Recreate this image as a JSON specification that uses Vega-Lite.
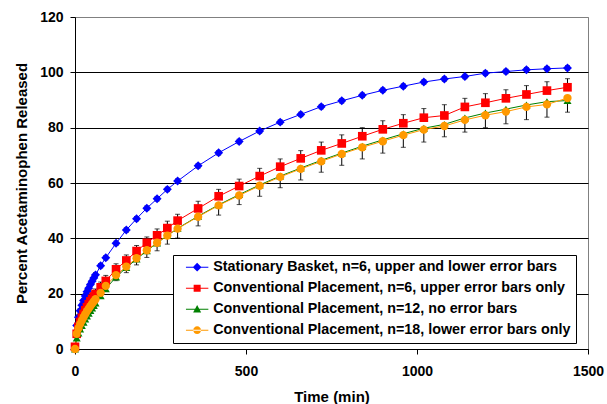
{
  "$schema": "https://vega.github.io/schema/vega-lite/v6.json",
  "width": 513,
  "height": 332,
  "autosize": {"type": "none"},
  "padding": {"left": 75, "top": 17, "right": 19, "bottom": 55},
  "config": {
    "font": "Liberation Sans",
    "view": {"stroke": "#808080", "strokeWidth": 1},
    "axis": {"labelFontWeight": "bold", "titleFontWeight": "bold", "labelColor": "black", "titleColor": "black", "domainColor": "black", "tickColor": "black", "labelFontSize": 14, "titleFontSize": 15},
    "legend": {"orient": "none", "legendX": 98, "legendY": 238, "labelFontSize": 14.3, "labelFontWeight": "bold", "labelColor": "black", "labelLimit": 500, "strokeColor": "black", "fillColor": "white", "padding": 5, "rowPadding": 6, "symbolSize": 49, "symbolOffset": 12, "labelOffset": 9}
  },
  "data": {"values": [
    {"s":"Stationary Basket, n=6, upper and lower error bars","t":5,"v":8.5,"lo":7.7,"hi":9.3},
    {"s":"Stationary Basket, n=6, upper and lower error bars","t":10,"v":11.5,"lo":10.7,"hi":12.3},
    {"s":"Stationary Basket, n=6, upper and lower error bars","t":15,"v":13.8,"lo":13.0,"hi":14.6},
    {"s":"Stationary Basket, n=6, upper and lower error bars","t":20,"v":15.8,"lo":15.0,"hi":16.6},
    {"s":"Stationary Basket, n=6, upper and lower error bars","t":25,"v":17.5,"lo":16.7,"hi":18.3},
    {"s":"Stationary Basket, n=6, upper and lower error bars","t":30,"v":19.2,"lo":18.4,"hi":20.0},
    {"s":"Stationary Basket, n=6, upper and lower error bars","t":35,"v":20.7,"lo":19.9,"hi":21.5},
    {"s":"Stationary Basket, n=6, upper and lower error bars","t":40,"v":22.0,"lo":21.2,"hi":22.8},
    {"s":"Stationary Basket, n=6, upper and lower error bars","t":45,"v":23.3,"lo":22.5,"hi":24.1},
    {"s":"Stationary Basket, n=6, upper and lower error bars","t":50,"v":24.5,"lo":23.7,"hi":25.3},
    {"s":"Stationary Basket, n=6, upper and lower error bars","t":55,"v":25.7,"lo":24.9,"hi":26.5},
    {"s":"Stationary Basket, n=6, upper and lower error bars","t":60,"v":26.8,"lo":26.0,"hi":27.6},
    {"s":"Stationary Basket, n=6, upper and lower error bars","t":75,"v":30.1,"lo":29.3,"hi":30.9},
    {"s":"Stationary Basket, n=6, upper and lower error bars","t":90,"v":33.0,"lo":32.2,"hi":33.8},
    {"s":"Stationary Basket, n=6, upper and lower error bars","t":120,"v":38.2,"lo":37.4,"hi":39.0},
    {"s":"Stationary Basket, n=6, upper and lower error bars","t":150,"v":43.0,"lo":42.2,"hi":43.8},
    {"s":"Stationary Basket, n=6, upper and lower error bars","t":180,"v":47.1,"lo":46.3,"hi":47.9},
    {"s":"Stationary Basket, n=6, upper and lower error bars","t":210,"v":50.9,"lo":50.1,"hi":51.7},
    {"s":"Stationary Basket, n=6, upper and lower error bars","t":240,"v":54.3,"lo":53.5,"hi":55.1},
    {"s":"Stationary Basket, n=6, upper and lower error bars","t":270,"v":57.7,"lo":56.9,"hi":58.5},
    {"s":"Stationary Basket, n=6, upper and lower error bars","t":300,"v":60.7,"lo":59.9,"hi":61.5},
    {"s":"Stationary Basket, n=6, upper and lower error bars","t":360,"v":66.2,"lo":65.4,"hi":67.0},
    {"s":"Stationary Basket, n=6, upper and lower error bars","t":420,"v":70.9,"lo":70.1,"hi":71.7},
    {"s":"Stationary Basket, n=6, upper and lower error bars","t":480,"v":75.0,"lo":74.2,"hi":75.8},
    {"s":"Stationary Basket, n=6, upper and lower error bars","t":540,"v":78.8,"lo":78.0,"hi":79.6},
    {"s":"Stationary Basket, n=6, upper and lower error bars","t":600,"v":82.0,"lo":81.2,"hi":82.8},
    {"s":"Stationary Basket, n=6, upper and lower error bars","t":660,"v":84.8,"lo":84.0,"hi":85.6},
    {"s":"Stationary Basket, n=6, upper and lower error bars","t":720,"v":87.6,"lo":86.8,"hi":88.4},
    {"s":"Stationary Basket, n=6, upper and lower error bars","t":780,"v":89.7,"lo":88.9,"hi":90.5},
    {"s":"Stationary Basket, n=6, upper and lower error bars","t":840,"v":91.7,"lo":90.9,"hi":92.5},
    {"s":"Stationary Basket, n=6, upper and lower error bars","t":900,"v":93.5,"lo":92.7,"hi":94.3},
    {"s":"Stationary Basket, n=6, upper and lower error bars","t":960,"v":95.0,"lo":94.2,"hi":95.8},
    {"s":"Stationary Basket, n=6, upper and lower error bars","t":1020,"v":96.5,"lo":95.7,"hi":97.3},
    {"s":"Stationary Basket, n=6, upper and lower error bars","t":1080,"v":97.6,"lo":96.8,"hi":98.4},
    {"s":"Stationary Basket, n=6, upper and lower error bars","t":1140,"v":98.5,"lo":97.7,"hi":99.3},
    {"s":"Stationary Basket, n=6, upper and lower error bars","t":1200,"v":99.7,"lo":98.9,"hi":100.5},
    {"s":"Stationary Basket, n=6, upper and lower error bars","t":1260,"v":100.3,"lo":99.5,"hi":101.1},
    {"s":"Stationary Basket, n=6, upper and lower error bars","t":1320,"v":100.9,"lo":100.1,"hi":101.7},
    {"s":"Stationary Basket, n=6, upper and lower error bars","t":1380,"v":101.3,"lo":100.5,"hi":102.1},
    {"s":"Stationary Basket, n=6, upper and lower error bars","t":1440,"v":101.6,"lo":100.8,"hi":102.4},

    {"s":"Conventional Placement, n=6, upper error bars only","t":0,"v":0.8,"lo":0.8,"hi":1.3},
    {"s":"Conventional Placement, n=6, upper error bars only","t":5,"v":5.5,"lo":5.5,"hi":6.5},
    {"s":"Conventional Placement, n=6, upper error bars only","t":10,"v":8.0,"lo":8.0,"hi":9.2},
    {"s":"Conventional Placement, n=6, upper error bars only","t":15,"v":9.8,"lo":9.8,"hi":11.1},
    {"s":"Conventional Placement, n=6, upper error bars only","t":20,"v":11.3,"lo":11.3,"hi":12.7},
    {"s":"Conventional Placement, n=6, upper error bars only","t":25,"v":12.7,"lo":12.7,"hi":14.2},
    {"s":"Conventional Placement, n=6, upper error bars only","t":30,"v":14.0,"lo":14.0,"hi":15.5},
    {"s":"Conventional Placement, n=6, upper error bars only","t":35,"v":15.1,"lo":15.1,"hi":16.7},
    {"s":"Conventional Placement, n=6, upper error bars only","t":40,"v":16.2,"lo":16.2,"hi":17.8},
    {"s":"Conventional Placement, n=6, upper error bars only","t":45,"v":17.2,"lo":17.2,"hi":18.9},
    {"s":"Conventional Placement, n=6, upper error bars only","t":50,"v":18.1,"lo":18.1,"hi":19.8},
    {"s":"Conventional Placement, n=6, upper error bars only","t":55,"v":19.0,"lo":19.0,"hi":20.8},
    {"s":"Conventional Placement, n=6, upper error bars only","t":60,"v":19.9,"lo":19.9,"hi":21.7},
    {"s":"Conventional Placement, n=6, upper error bars only","t":75,"v":22.3,"lo":22.3,"hi":24.2},
    {"s":"Conventional Placement, n=6, upper error bars only","t":90,"v":24.6,"lo":24.6,"hi":26.6},
    {"s":"Conventional Placement, n=6, upper error bars only","t":120,"v":28.8,"lo":28.8,"hi":30.8},
    {"s":"Conventional Placement, n=6, upper error bars only","t":150,"v":32.0,"lo":32.0,"hi":34.0},
    {"s":"Conventional Placement, n=6, upper error bars only","t":180,"v":35.4,"lo":35.4,"hi":37.4},
    {"s":"Conventional Placement, n=6, upper error bars only","t":210,"v":38.4,"lo":38.4,"hi":40.5},
    {"s":"Conventional Placement, n=6, upper error bars only","t":240,"v":41.1,"lo":41.1,"hi":43.4},
    {"s":"Conventional Placement, n=6, upper error bars only","t":270,"v":43.7,"lo":43.7,"hi":46.2},
    {"s":"Conventional Placement, n=6, upper error bars only","t":300,"v":46.4,"lo":46.4,"hi":48.7},
    {"s":"Conventional Placement, n=6, upper error bars only","t":360,"v":50.8,"lo":50.8,"hi":53.4},
    {"s":"Conventional Placement, n=6, upper error bars only","t":420,"v":55.2,"lo":55.2,"hi":57.7},
    {"s":"Conventional Placement, n=6, upper error bars only","t":480,"v":58.9,"lo":58.9,"hi":61.4},
    {"s":"Conventional Placement, n=6, upper error bars only","t":540,"v":62.5,"lo":62.5,"hi":65.3},
    {"s":"Conventional Placement, n=6, upper error bars only","t":600,"v":65.9,"lo":65.9,"hi":68.7},
    {"s":"Conventional Placement, n=6, upper error bars only","t":660,"v":68.9,"lo":68.9,"hi":71.7},
    {"s":"Conventional Placement, n=6, upper error bars only","t":720,"v":71.8,"lo":71.8,"hi":74.8},
    {"s":"Conventional Placement, n=6, upper error bars only","t":780,"v":74.3,"lo":74.3,"hi":77.4},
    {"s":"Conventional Placement, n=6, upper error bars only","t":840,"v":76.9,"lo":76.9,"hi":80.0},
    {"s":"Conventional Placement, n=6, upper error bars only","t":900,"v":79.4,"lo":79.4,"hi":82.5},
    {"s":"Conventional Placement, n=6, upper error bars only","t":960,"v":81.6,"lo":81.6,"hi":84.7},
    {"s":"Conventional Placement, n=6, upper error bars only","t":1020,"v":83.6,"lo":83.6,"hi":86.9},
    {"s":"Conventional Placement, n=6, upper error bars only","t":1080,"v":84.4,"lo":84.4,"hi":88.3},
    {"s":"Conventional Placement, n=6, upper error bars only","t":1140,"v":87.5,"lo":87.5,"hi":90.6},
    {"s":"Conventional Placement, n=6, upper error bars only","t":1200,"v":89.0,"lo":89.0,"hi":92.3},
    {"s":"Conventional Placement, n=6, upper error bars only","t":1260,"v":90.6,"lo":90.6,"hi":93.7},
    {"s":"Conventional Placement, n=6, upper error bars only","t":1320,"v":92.0,"lo":92.0,"hi":95.2},
    {"s":"Conventional Placement, n=6, upper error bars only","t":1380,"v":93.4,"lo":93.4,"hi":96.6},
    {"s":"Conventional Placement, n=6, upper error bars only","t":1440,"v":94.6,"lo":94.6,"hi":97.7},

    {"s":"Conventional Placement, n=12, no error bars","t":0,"v":0.0},
    {"s":"Conventional Placement, n=12, no error bars","t":5,"v":4.0},
    {"s":"Conventional Placement, n=12, no error bars","t":10,"v":5.8},
    {"s":"Conventional Placement, n=12, no error bars","t":15,"v":7.2},
    {"s":"Conventional Placement, n=12, no error bars","t":20,"v":8.5},
    {"s":"Conventional Placement, n=12, no error bars","t":25,"v":9.7},
    {"s":"Conventional Placement, n=12, no error bars","t":30,"v":10.8},
    {"s":"Conventional Placement, n=12, no error bars","t":35,"v":11.9},
    {"s":"Conventional Placement, n=12, no error bars","t":40,"v":12.9},
    {"s":"Conventional Placement, n=12, no error bars","t":45,"v":13.9},
    {"s":"Conventional Placement, n=12, no error bars","t":50,"v":14.8},
    {"s":"Conventional Placement, n=12, no error bars","t":55,"v":15.7},
    {"s":"Conventional Placement, n=12, no error bars","t":60,"v":16.6},
    {"s":"Conventional Placement, n=12, no error bars","t":75,"v":19.2},
    {"s":"Conventional Placement, n=12, no error bars","t":90,"v":21.8},
    {"s":"Conventional Placement, n=12, no error bars","t":120,"v":26.0},
    {"s":"Conventional Placement, n=12, no error bars","t":150,"v":29.4},
    {"s":"Conventional Placement, n=12, no error bars","t":180,"v":32.5},
    {"s":"Conventional Placement, n=12, no error bars","t":210,"v":35.5},
    {"s":"Conventional Placement, n=12, no error bars","t":240,"v":38.3},
    {"s":"Conventional Placement, n=12, no error bars","t":270,"v":41.0},
    {"s":"Conventional Placement, n=12, no error bars","t":300,"v":43.6},
    {"s":"Conventional Placement, n=12, no error bars","t":360,"v":48.0},
    {"s":"Conventional Placement, n=12, no error bars","t":420,"v":52.1},
    {"s":"Conventional Placement, n=12, no error bars","t":480,"v":55.8},
    {"s":"Conventional Placement, n=12, no error bars","t":540,"v":59.3},
    {"s":"Conventional Placement, n=12, no error bars","t":600,"v":62.5},
    {"s":"Conventional Placement, n=12, no error bars","t":660,"v":65.4},
    {"s":"Conventional Placement, n=12, no error bars","t":720,"v":68.2},
    {"s":"Conventional Placement, n=12, no error bars","t":780,"v":70.8},
    {"s":"Conventional Placement, n=12, no error bars","t":840,"v":73.3},
    {"s":"Conventional Placement, n=12, no error bars","t":900,"v":75.6},
    {"s":"Conventional Placement, n=12, no error bars","t":960,"v":77.8},
    {"s":"Conventional Placement, n=12, no error bars","t":1020,"v":79.8},
    {"s":"Conventional Placement, n=12, no error bars","t":1080,"v":81.2},
    {"s":"Conventional Placement, n=12, no error bars","t":1140,"v":83.5},
    {"s":"Conventional Placement, n=12, no error bars","t":1200,"v":85.3},
    {"s":"Conventional Placement, n=12, no error bars","t":1260,"v":86.7},
    {"s":"Conventional Placement, n=12, no error bars","t":1320,"v":88.2},
    {"s":"Conventional Placement, n=12, no error bars","t":1380,"v":89.4},
    {"s":"Conventional Placement, n=12, no error bars","t":1440,"v":89.8},

    {"s":"Conventional Placement, n=18, lower error bars only","t":0,"v":0.0,"lo":0.0,"hi":0.0},
    {"s":"Conventional Placement, n=18, lower error bars only","t":5,"v":5.5,"lo":4.7,"hi":5.5},
    {"s":"Conventional Placement, n=18, lower error bars only","t":10,"v":7.5,"lo":6.5,"hi":7.5},
    {"s":"Conventional Placement, n=18, lower error bars only","t":15,"v":9.0,"lo":7.9,"hi":9.0},
    {"s":"Conventional Placement, n=18, lower error bars only","t":20,"v":10.3,"lo":9.1,"hi":10.3},
    {"s":"Conventional Placement, n=18, lower error bars only","t":25,"v":11.5,"lo":10.2,"hi":11.5},
    {"s":"Conventional Placement, n=18, lower error bars only","t":30,"v":12.6,"lo":11.2,"hi":12.6},
    {"s":"Conventional Placement, n=18, lower error bars only","t":35,"v":13.7,"lo":12.2,"hi":13.7},
    {"s":"Conventional Placement, n=18, lower error bars only","t":40,"v":14.6,"lo":13.1,"hi":14.6},
    {"s":"Conventional Placement, n=18, lower error bars only","t":45,"v":15.5,"lo":13.9,"hi":15.5},
    {"s":"Conventional Placement, n=18, lower error bars only","t":50,"v":16.4,"lo":14.8,"hi":16.4},
    {"s":"Conventional Placement, n=18, lower error bars only","t":55,"v":17.2,"lo":15.5,"hi":17.2},
    {"s":"Conventional Placement, n=18, lower error bars only","t":60,"v":18.0,"lo":16.3,"hi":18.0},
    {"s":"Conventional Placement, n=18, lower error bars only","t":75,"v":20.3,"lo":18.5,"hi":20.3},
    {"s":"Conventional Placement, n=18, lower error bars only","t":90,"v":22.8,"lo":20.9,"hi":22.8},
    {"s":"Conventional Placement, n=18, lower error bars only","t":120,"v":26.7,"lo":24.7,"hi":26.7},
    {"s":"Conventional Placement, n=18, lower error bars only","t":150,"v":29.8,"lo":27.6,"hi":29.8},
    {"s":"Conventional Placement, n=18, lower error bars only","t":180,"v":32.8,"lo":30.4,"hi":32.8},
    {"s":"Conventional Placement, n=18, lower error bars only","t":210,"v":35.7,"lo":33.1,"hi":35.7},
    {"s":"Conventional Placement, n=18, lower error bars only","t":240,"v":38.4,"lo":35.5,"hi":38.4},
    {"s":"Conventional Placement, n=18, lower error bars only","t":270,"v":41.0,"lo":37.9,"hi":41.0},
    {"s":"Conventional Placement, n=18, lower error bars only","t":300,"v":43.5,"lo":40.1,"hi":43.5},
    {"s":"Conventional Placement, n=18, lower error bars only","t":360,"v":47.8,"lo":44.5,"hi":47.8},
    {"s":"Conventional Placement, n=18, lower error bars only","t":420,"v":51.9,"lo":48.4,"hi":51.9},
    {"s":"Conventional Placement, n=18, lower error bars only","t":480,"v":55.5,"lo":52.2,"hi":55.5},
    {"s":"Conventional Placement, n=18, lower error bars only","t":540,"v":59.0,"lo":55.2,"hi":59.0},
    {"s":"Conventional Placement, n=18, lower error bars only","t":600,"v":62.2,"lo":58.3,"hi":62.2},
    {"s":"Conventional Placement, n=18, lower error bars only","t":660,"v":65.1,"lo":61.1,"hi":65.1},
    {"s":"Conventional Placement, n=18, lower error bars only","t":720,"v":67.8,"lo":63.9,"hi":67.8},
    {"s":"Conventional Placement, n=18, lower error bars only","t":780,"v":70.5,"lo":66.4,"hi":70.5},
    {"s":"Conventional Placement, n=18, lower error bars only","t":840,"v":72.9,"lo":68.7,"hi":72.9},
    {"s":"Conventional Placement, n=18, lower error bars only","t":900,"v":75.1,"lo":70.8,"hi":75.1},
    {"s":"Conventional Placement, n=18, lower error bars only","t":960,"v":77.3,"lo":72.9,"hi":77.3},
    {"s":"Conventional Placement, n=18, lower error bars only","t":1020,"v":79.3,"lo":74.8,"hi":79.3},
    {"s":"Conventional Placement, n=18, lower error bars only","t":1080,"v":80.6,"lo":76.7,"hi":80.6},
    {"s":"Conventional Placement, n=18, lower error bars only","t":1140,"v":82.8,"lo":78.4,"hi":82.8},
    {"s":"Conventional Placement, n=18, lower error bars only","t":1200,"v":84.5,"lo":80.0,"hi":84.5},
    {"s":"Conventional Placement, n=18, lower error bars only","t":1260,"v":85.8,"lo":81.4,"hi":85.8},
    {"s":"Conventional Placement, n=18, lower error bars only","t":1320,"v":87.5,"lo":82.9,"hi":87.5},
    {"s":"Conventional Placement, n=18, lower error bars only","t":1380,"v":88.4,"lo":83.8,"hi":88.4},
    {"s":"Conventional Placement, n=18, lower error bars only","t":1440,"v":90.7,"lo":85.6,"hi":90.7}
  ]},
  "encoding": {
    "x": {"field": "t", "type": "quantitative", "scale": {"domain": [0, 1500], "nice": false},
      "axis": {"title": "Time (min)", "values": [0, 500, 1000, 1500], "format": "d", "grid": false, "tickSize": 5, "labelPadding": 10, "titlePadding": 11, "labelFlush": false}}
  },
  "layer": [
    {
      "transform": [{"filter": "isValid(datum.lo)"}],
      "mark": {"type": "errorbar", "ticks": {"size": 5, "color": "black", "thickness": 1}, "rule": {"color": "black", "strokeWidth": 1}, "color": "black"},
      "encoding": {
        "y": {"field": "lo", "type": "quantitative", "title": "Percent Acetaminophen Released", "scale": {"domain": [0, 120], "nice": false}},
        "y2": {"field": "hi"}
      }
    },
    {
      "mark": {"type": "line", "strokeWidth": 1},
      "encoding": {
        "y": {"field": "v", "type": "quantitative", "title": "Percent Acetaminophen Released", "scale": {"domain": [0, 120], "nice": false},
          "axis": {"values": [0, 20, 40, 60, 80, 100, 120], "tickSize": 5, "labelPadding": 7, "titlePadding": 10,
            "gridColor": {"condition": {"test": "datum.value === 120", "value": "#808080"}, "value": "#000000"}, "gridOpacity": 1}},
        "color": {"field": "s", "type": "nominal", "scale": {"domain": ["Stationary Basket, n=6, upper and lower error bars", "Conventional Placement, n=6, upper error bars only", "Conventional Placement, n=12, no error bars", "Conventional Placement, n=18, lower error bars only"], "range": ["#0000FF", "#FF0000", "#008000", "#FF9900"]},
          "legend": {"title": null, "encode": {"symbols": {"update": {"size": {"value": 49}, "strokeWidth": {"value": 0}, "shape": {"signal": "datum.value === 'Stationary Basket, n=6, upper and lower error bars' ? 'M-3.2,-0.14H3.2V0.14H-3.2Z M0,-1.25L1.25,0L0,1.25L-1.25,0Z' : datum.value === 'Conventional Placement, n=6, upper error bars only' ? 'M-3.2,-0.14H3.2V0.14H-3.2Z M-1,-1H1V1H-1Z' : datum.value === 'Conventional Placement, n=12, no error bars' ? 'M-3.2,-0.14H3.2V0.14H-3.2Z M0,-1.15L1.15,0.95H-1.15Z' : 'M-3.2,-0.14H3.2V0.14H-3.2Z M-1.1,0A1.1,1.1 0 1,0 1.1,0A1.1,1.1 0 1,0 -1.1,0Z'"}}}}}}
      }
    },
    {
      "mark": {"type": "point", "filled": true, "opacity": 1, "strokeWidth": 0},
      "encoding": {
        "y": {"field": "v", "type": "quantitative", "title": "Percent Acetaminophen Released", "scale": {"domain": [0, 120], "nice": false}},
        "color": {"field": "s", "type": "nominal",
          "legend": {"title": null, "encode": {"symbols": {"update": {"size": {"value": 49}, "strokeWidth": {"value": 0}, "shape": {"signal": "datum.value === 'Stationary Basket, n=6, upper and lower error bars' ? 'M-3.2,-0.14H3.2V0.14H-3.2Z M0,-1.25L1.25,0L0,1.25L-1.25,0Z' : datum.value === 'Conventional Placement, n=6, upper error bars only' ? 'M-3.2,-0.14H3.2V0.14H-3.2Z M-1,-1H1V1H-1Z' : datum.value === 'Conventional Placement, n=12, no error bars' ? 'M-3.2,-0.14H3.2V0.14H-3.2Z M0,-1.15L1.15,0.95H-1.15Z' : 'M-3.2,-0.14H3.2V0.14H-3.2Z M-1.1,0A1.1,1.1 0 1,0 1.1,0A1.1,1.1 0 1,0 -1.1,0Z'"}}}}}},
        "shape": {"field": "s", "type": "nominal", "scale": {"range": ["triangle-up", "circle", "square", "diamond"]}, "legend": null},
        "size": {"field": "s", "type": "nominal", "scale": {"range": [64, 80, 56, 90]}, "legend": null}
      }
    }
  ]
}
